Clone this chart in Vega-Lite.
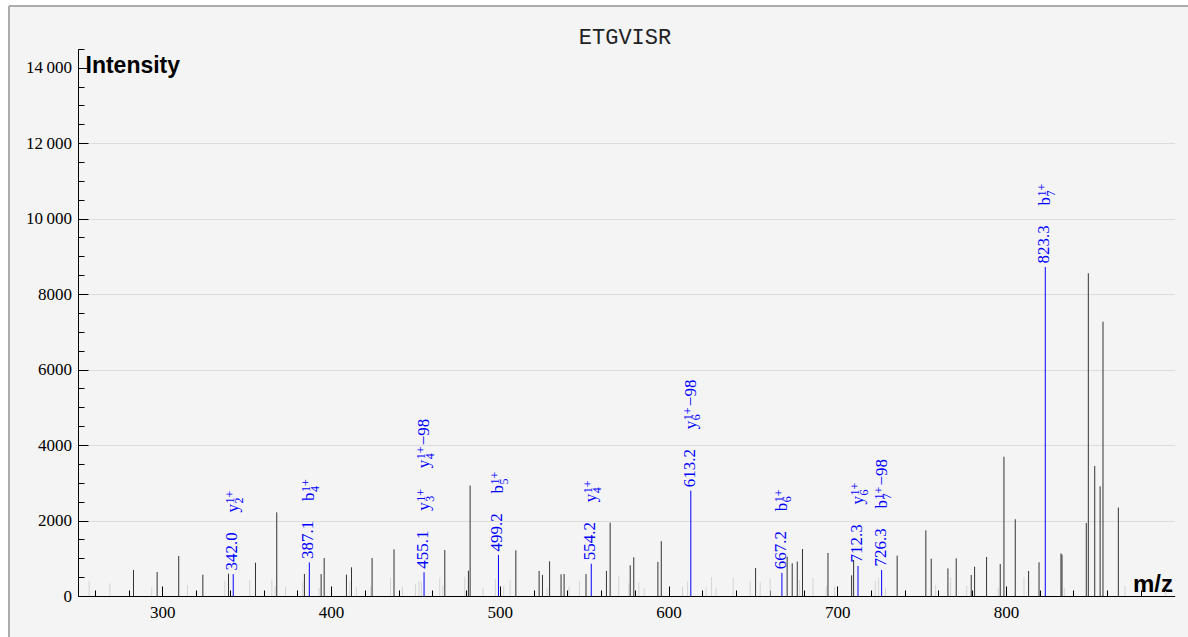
{
  "$schema": "https://vega.github.io/schema/vega-lite/v6.json",
  "width": 1179,
  "height": 631,
  "autosize": {"type": "none"},
  "padding": {"left": 9, "top": 6, "right": 0, "bottom": 0},
  "background": "#ffffff",
  "config": {
    "view": {"fill": "#f4f4f4", "stroke": "#ababab", "strokeWidth": 2, "strokeDash": [1179, 1810, 631, 0]},
    "axis": {"labelFont": "Liberation Serif", "labelFontSize": 17, "labelColor": "#000000", "tickColor": "#000000", "domainColor": "#000000", "grid": false, "tickWidth": 1, "domainWidth": 1}
  },
  "title": {"text": "ETGVISR", "font": "Liberation Mono", "fontSize": 22, "fontWeight": "normal", "color": "#222222", "anchor": "middle", "frame": "group", "orient": "top", "offset": 0, "baseline": "middle", "dx": 26.5, "dy": 53},
  "datasets": {
    "peaks": [
      {"mz": 256.6, "intensity": 400, "kind": "n"},
      {"mz": 268.9, "intensity": 335, "kind": "n"},
      {"mz": 293.7, "intensity": 230, "kind": "n"},
      {"mz": 314.9, "intensity": 283, "kind": "n"},
      {"mz": 337.0, "intensity": 400, "kind": "n"},
      {"mz": 351.8, "intensity": 424, "kind": "n"},
      {"mz": 364.9, "intensity": 442, "kind": "n"},
      {"mz": 366.9, "intensity": 265, "kind": "n"},
      {"mz": 373.0, "intensity": 247, "kind": "n"},
      {"mz": 383.2, "intensity": 380, "kind": "n"},
      {"mz": 392.9, "intensity": 220, "kind": "n"},
      {"mz": 411.1, "intensity": 400, "kind": "n"},
      {"mz": 415.0, "intensity": 230, "kind": "n"},
      {"mz": 423.5, "intensity": 265, "kind": "n"},
      {"mz": 435.2, "intensity": 486, "kind": "n"},
      {"mz": 442.3, "intensity": 247, "kind": "n"},
      {"mz": 450.0, "intensity": 310, "kind": "n"},
      {"mz": 452.1, "intensity": 400, "kind": "n"},
      {"mz": 453.5, "intensity": 371, "kind": "n"},
      {"mz": 464.4, "intensity": 486, "kind": "n"},
      {"mz": 466.2, "intensity": 283, "kind": "n"},
      {"mz": 479.2, "intensity": 512, "kind": "n"},
      {"mz": 490.0, "intensity": 221, "kind": "n"},
      {"mz": 497.4, "intensity": 442, "kind": "n"},
      {"mz": 502.3, "intensity": 265, "kind": "n"},
      {"mz": 506.1, "intensity": 424, "kind": "n"},
      {"mz": 528.0, "intensity": 221, "kind": "n"},
      {"mz": 541.0, "intensity": 247, "kind": "n"},
      {"mz": 547.2, "intensity": 400, "kind": "n"},
      {"mz": 570.5, "intensity": 521, "kind": "n"},
      {"mz": 576.5, "intensity": 336, "kind": "n"},
      {"mz": 582.4, "intensity": 371, "kind": "n"},
      {"mz": 585.6, "intensity": 212, "kind": "n"},
      {"mz": 608.3, "intensity": 247, "kind": "n"},
      {"mz": 611.3, "intensity": 380, "kind": "n"},
      {"mz": 622.3, "intensity": 230, "kind": "n"},
      {"mz": 625.5, "intensity": 504, "kind": "n"},
      {"mz": 628.2, "intensity": 221, "kind": "n"},
      {"mz": 638.3, "intensity": 486, "kind": "n"},
      {"mz": 648.4, "intensity": 398, "kind": "n"},
      {"mz": 654.3, "intensity": 371, "kind": "n"},
      {"mz": 660.2, "intensity": 468, "kind": "n"},
      {"mz": 677.7, "intensity": 424, "kind": "n"},
      {"mz": 685.6, "intensity": 486, "kind": "n"},
      {"mz": 693.5, "intensity": 265, "kind": "n"},
      {"mz": 698.4, "intensity": 247, "kind": "n"},
      {"mz": 722.5, "intensity": 400, "kind": "n"},
      {"mz": 724.5, "intensity": 486, "kind": "n"},
      {"mz": 728.6, "intensity": 221, "kind": "n"},
      {"mz": 758.3, "intensity": 292, "kind": "n"},
      {"mz": 767.2, "intensity": 486, "kind": "n"},
      {"mz": 776.7, "intensity": 265, "kind": "n"},
      {"mz": 795.4, "intensity": 221, "kind": "n"},
      {"mz": 810.7, "intensity": 495, "kind": "n"},
      {"mz": 834.6, "intensity": 221, "kind": "n"},
      {"mz": 870.5, "intensity": 265, "kind": "n"},
      {"mz": 894.7, "intensity": 133, "kind": "n"},
      {"mz": 282.9, "intensity": 690, "kind": "p"},
      {"mz": 296.9, "intensity": 636, "kind": "p"},
      {"mz": 309.7, "intensity": 1060, "kind": "p"},
      {"mz": 324.0, "intensity": 565, "kind": "p"},
      {"mz": 339.2, "intensity": 590, "kind": "p"},
      {"mz": 355.2, "intensity": 883, "kind": "p"},
      {"mz": 367.8, "intensity": 2217, "kind": "p"},
      {"mz": 384.2, "intensity": 583, "kind": "p"},
      {"mz": 394.1, "intensity": 583, "kind": "p"},
      {"mz": 395.9, "intensity": 1007, "kind": "p"},
      {"mz": 409.1, "intensity": 565, "kind": "p"},
      {"mz": 412.1, "intensity": 760, "kind": "p"},
      {"mz": 424.3, "intensity": 1007, "kind": "p"},
      {"mz": 437.3, "intensity": 1237, "kind": "p"},
      {"mz": 467.4, "intensity": 1219, "kind": "p"},
      {"mz": 481.4, "intensity": 671, "kind": "p"},
      {"mz": 482.4, "intensity": 2924, "kind": "p"},
      {"mz": 509.5, "intensity": 1210, "kind": "p"},
      {"mz": 523.3, "intensity": 663, "kind": "p"},
      {"mz": 525.3, "intensity": 557, "kind": "p"},
      {"mz": 529.5, "intensity": 919, "kind": "p"},
      {"mz": 536.3, "intensity": 574, "kind": "p"},
      {"mz": 538.1, "intensity": 583, "kind": "p"},
      {"mz": 551.1, "intensity": 583, "kind": "p"},
      {"mz": 563.2, "intensity": 663, "kind": "p"},
      {"mz": 565.4, "intensity": 1943, "kind": "p"},
      {"mz": 577.3, "intensity": 813, "kind": "p"},
      {"mz": 579.4, "intensity": 1025, "kind": "p"},
      {"mz": 593.7, "intensity": 905, "kind": "p"},
      {"mz": 595.7, "intensity": 1453, "kind": "p"},
      {"mz": 651.6, "intensity": 742, "kind": "p"},
      {"mz": 670.3, "intensity": 1042, "kind": "p"},
      {"mz": 673.3, "intensity": 866, "kind": "p"},
      {"mz": 676.3, "intensity": 910, "kind": "p"},
      {"mz": 679.4, "intensity": 1245, "kind": "p"},
      {"mz": 694.5, "intensity": 1140, "kind": "p"},
      {"mz": 708.5, "intensity": 548, "kind": "p"},
      {"mz": 709.7, "intensity": 954, "kind": "p"},
      {"mz": 735.5, "intensity": 1069, "kind": "p"},
      {"mz": 752.5, "intensity": 1740, "kind": "p"},
      {"mz": 755.7, "intensity": 989, "kind": "p"},
      {"mz": 765.6, "intensity": 733, "kind": "p"},
      {"mz": 770.5, "intensity": 998, "kind": "p"},
      {"mz": 779.4, "intensity": 557, "kind": "p"},
      {"mz": 781.4, "intensity": 777, "kind": "p"},
      {"mz": 788.5, "intensity": 1033, "kind": "p"},
      {"mz": 796.6, "intensity": 848, "kind": "p"},
      {"mz": 798.8, "intensity": 3690, "kind": "p"},
      {"mz": 805.5, "intensity": 2035, "kind": "p"},
      {"mz": 813.4, "intensity": 663, "kind": "p"},
      {"mz": 819.6, "intensity": 892, "kind": "p"},
      {"mz": 832.6, "intensity": 1130, "kind": "p"},
      {"mz": 833.2, "intensity": 1095, "kind": "p"},
      {"mz": 847.6, "intensity": 1935, "kind": "p"},
      {"mz": 848.8, "intensity": 8551, "kind": "p"},
      {"mz": 852.6, "intensity": 3445, "kind": "p"},
      {"mz": 855.8, "intensity": 2907, "kind": "p"},
      {"mz": 857.5, "intensity": 7269, "kind": "p"},
      {"mz": 866.6, "intensity": 2345, "kind": "p"}
    ],
    "ions": [
      {"mz": 342.0, "intensity": 580, "base": "y", "sub": "2", "sup": "1+", "suffix": "", "row": 1},
      {"mz": 387.1, "intensity": 888, "base": "b", "sub": "4", "sup": "1+", "suffix": "", "row": 1},
      {"mz": 455.1, "intensity": 630, "base": "y", "sub": "3", "sup": "1+", "suffix": "", "row": 1},
      {"mz": 455.1, "intensity": 630, "base": "y", "sub": "4", "sup": "1+", "suffix": "−98", "row": 2},
      {"mz": 499.2, "intensity": 1087, "base": "b", "sub": "5", "sup": "1+", "suffix": "", "row": 1},
      {"mz": 554.2, "intensity": 855, "base": "y", "sub": "4", "sup": "1+", "suffix": "", "row": 1},
      {"mz": 613.2, "intensity": 2791, "base": "y", "sub": "6", "sup": "1+", "suffix": "−98", "row": 1},
      {"mz": 667.2, "intensity": 614, "base": "b", "sub": "6", "sup": "1+", "suffix": "", "row": 1},
      {"mz": 712.3, "intensity": 795, "base": "y", "sub": "6", "sup": "1+", "suffix": "", "row": 1},
      {"mz": 726.3, "intensity": 689, "base": "b", "sub": "7", "sup": "1+", "suffix": "−98", "row": 1},
      {"mz": 823.3, "intensity": 8720, "base": "b", "sub": "7", "sup": "1+", "suffix": "", "row": 1}
    ]
  },
  "resolve": {"axis": {"x": "independent", "y": "independent"}},
  "layer": [
    {
      "data": {"name": "peaks"},
      "transform": [{"filter": "datum.kind === 'n'"}],
      "mark": {"type": "rule", "color": "#d4d4d4", "strokeWidth": 1},
      "encoding": {
        "x": {"field": "mz", "type": "quantitative",
          "scale": {"domain": [250, 900], "range": [69, 1165.7], "nice": false, "zero": false},
          "axis": {"orient": "bottom", "offset": -41, "values": [300, 400, 500, 600, 700, 800], "format": "d", "ticks": false, "tickSize": 0, "domain": false, "grid": false, "labelPadding": 8, "title": null}},
        "y": {"field": "intensity", "type": "quantitative",
          "scale": {"domain": [0, 14500], "range": [590, 42.8], "nice": false, "zero": false},
          "axis": {"orient": "left", "offset": -69, "values": [0, 2000, 4000, 6000, 8000, 10000, 12000, 14000], "ticks": false, "tickSize": 0, "domain": false, "grid": false, "labelPadding": 6.5,
            "labelExpr": "datum.value >= 10000 ? format(floor(datum.value / 1000), 'd') + '\u2009000' : format(datum.value, 'd')",
            "title": "Intensity", "titleAngle": 0, "titleX": 7, "titleY": 66, "titleAlign": "left", "titleBaseline": "alphabetic", "titleFont": "Liberation Sans", "titleFontSize": 23, "titleFontWeight": "bold", "titleColor": "#000000"}},
        "y2": {"datum": 0}
      }
    },
    {
      "data": {"name": "peaks"},
      "transform": [{"filter": "datum.kind === 'p'"}],
      "mark": {"type": "rule", "color": "#333333", "strokeWidth": 1},
      "encoding": {
        "x": {"field": "mz", "type": "quantitative",
          "scale": {"domain": [250, 900], "range": [69, 1165.7], "nice": false, "zero": false},
          "axis": {"orient": "bottom", "offset": -41, "values": [300, 400, 500, 600, 700, 800], "ticks": true, "tickSize": -10, "labels": false, "domain": true, "grid": false,
            "title": "m/z", "titleAngle": 0, "titleX": 1163.5, "titleY": -5, "titleAlign": "right", "titleBaseline": "alphabetic", "titleFont": "Liberation Sans", "titleFontSize": 24, "titleFontWeight": "bold", "titleColor": "#000000"}},
        "y": {"field": "intensity", "type": "quantitative",
          "scale": {"domain": [0, 14500], "range": [590, 42.8], "nice": false, "zero": false},
          "axis": {"orient": "left", "offset": -69, "values": [0, 2000, 4000, 6000, 8000, 10000, 12000, 14000], "ticks": true, "tickSize": -10, "labels": false, "domain": true, "grid": false, "title": null}},
        "y2": {"datum": 0}
      }
    },
    {
      "data": {"name": "ions"},
      "transform": [{"filter": "datum.row === 1"}],
      "mark": {"type": "rule", "color": "#0000ff", "strokeWidth": 1},
      "encoding": {
        "x": {"field": "mz", "type": "quantitative",
          "scale": {"domain": [250, 900], "range": [69, 1165.7], "nice": false, "zero": false},
          "axis": {"orient": "bottom", "offset": -41, "values": [260, 280, 320, 340, 360, 380, 420, 440, 460, 480, 520, 540, 560, 580, 620, 640, 660, 680, 720, 740, 760, 780, 820, 840, 860, 880], "ticks": true, "tickSize": -6, "labels": false, "domain": false, "grid": false, "title": null}},
        "y": {"field": "intensity", "type": "quantitative",
          "scale": {"domain": [0, 14500], "range": [590, 42.8], "nice": false, "zero": false},
          "axis": {"orient": "left", "offset": -69, "values": [500, 1000, 1500, 2500, 3000, 3500, 4500, 5000, 5500, 6500, 7000, 7500, 8500, 9000, 9500, 10500, 11000, 11500, 12500, 13000, 13500, 14500], "ticks": true, "tickSize": -6, "labels": false, "domain": false, "grid": false, "title": null}},
        "y2": {"datum": 0}
      }
    },
    {
      "data": {"name": "ions"},
      "transform": [{"filter": "datum.row === 1"}],
      "mark": {"type": "text", "angle": 270, "align": "left", "baseline": "middle", "dx": 3.5, "dy": -1, "font": "Liberation Serif", "fontSize": 17, "color": "#0000ff"},
      "encoding": {
        "x": {"field": "mz", "type": "quantitative", "scale": {"domain": [250, 900], "range": [69, 1165.7], "nice": false, "zero": false}, "axis": null},
        "y": {"field": "intensity", "type": "quantitative",
          "scale": {"domain": [0, 14500], "range": [590, 42.8], "nice": false, "zero": false},
          "axis": {"orient": "left", "offset": -69, "values": [2000, 4000, 6000, 8000, 10000, 12000], "grid": true, "gridColor": "#dcdcdc", "gridWidth": 1, "ticks": false, "labels": false, "domain": false, "title": null}},
        "text": {"field": "mz", "type": "quantitative", "format": ".1f"}
      }
    },
    {
      "data": {"name": "ions"},
      "transform": [{"filter": "datum.row === 1"}],
      "mark": {"type": "text", "angle": 270, "align": "left", "baseline": "middle", "dx": 61.5, "dy": 0, "font": "Liberation Serif", "fontSize": 17, "color": "#0000ff"},
      "encoding": {
        "x": {"field": "mz", "type": "quantitative", "axis": null},
        "y": {"field": "intensity", "type": "quantitative", "axis": null},
        "text": {"field": "base"}
      }
    },
    {
      "data": {"name": "ions"},
      "transform": [{"filter": "datum.row === 1"}],
      "mark": {"type": "text", "angle": 270, "align": "left", "baseline": "middle", "dx": 70.5, "dy": -3, "font": "Liberation Serif", "fontSize": 12, "color": "#0000ff"},
      "encoding": {
        "x": {"field": "mz", "type": "quantitative", "axis": null},
        "y": {"field": "intensity", "type": "quantitative", "axis": null},
        "text": {"field": "sup"}
      }
    },
    {
      "data": {"name": "ions"},
      "transform": [{"filter": "datum.row === 1"}],
      "mark": {"type": "text", "angle": 270, "align": "left", "baseline": "middle", "dx": 70.5, "dy": 5.5, "font": "Liberation Serif", "fontSize": 12, "color": "#0000ff"},
      "encoding": {
        "x": {"field": "mz", "type": "quantitative", "axis": null},
        "y": {"field": "intensity", "type": "quantitative", "axis": null},
        "text": {"field": "sub"}
      }
    },
    {
      "data": {"name": "ions"},
      "transform": [{"filter": "datum.row === 1"}],
      "mark": {"type": "text", "angle": 270, "align": "left", "baseline": "middle", "dx": 84.5, "dy": 0, "font": "Liberation Serif", "fontSize": 17, "color": "#0000ff"},
      "encoding": {
        "x": {"field": "mz", "type": "quantitative", "axis": null},
        "y": {"field": "intensity", "type": "quantitative", "axis": null},
        "text": {"field": "suffix"}
      }
    },
    {
      "data": {"name": "ions"},
      "transform": [{"filter": "datum.row === 2"}],
      "mark": {"type": "text", "angle": 270, "align": "left", "baseline": "middle", "dx": 104, "dy": 0, "font": "Liberation Serif", "fontSize": 17, "color": "#0000ff"},
      "encoding": {
        "x": {"field": "mz", "type": "quantitative", "axis": null},
        "y": {"field": "intensity", "type": "quantitative", "axis": null},
        "text": {"field": "base"}
      }
    },
    {
      "data": {"name": "ions"},
      "transform": [{"filter": "datum.row === 2"}],
      "mark": {"type": "text", "angle": 270, "align": "left", "baseline": "middle", "dx": 113, "dy": -3, "font": "Liberation Serif", "fontSize": 12, "color": "#0000ff"},
      "encoding": {
        "x": {"field": "mz", "type": "quantitative", "axis": null},
        "y": {"field": "intensity", "type": "quantitative", "axis": null},
        "text": {"field": "sup"}
      }
    },
    {
      "data": {"name": "ions"},
      "transform": [{"filter": "datum.row === 2"}],
      "mark": {"type": "text", "angle": 270, "align": "left", "baseline": "middle", "dx": 113, "dy": 5.5, "font": "Liberation Serif", "fontSize": 12, "color": "#0000ff"},
      "encoding": {
        "x": {"field": "mz", "type": "quantitative", "axis": null},
        "y": {"field": "intensity", "type": "quantitative", "axis": null},
        "text": {"field": "sub"}
      }
    },
    {
      "data": {"name": "ions"},
      "transform": [{"filter": "datum.row === 2"}],
      "mark": {"type": "text", "angle": 270, "align": "left", "baseline": "middle", "dx": 127, "dy": 0, "font": "Liberation Serif", "fontSize": 17, "color": "#0000ff"},
      "encoding": {
        "x": {"field": "mz", "type": "quantitative", "axis": null},
        "y": {"field": "intensity", "type": "quantitative", "axis": null},
        "text": {"field": "suffix"}
      }
    }
  ]
}
